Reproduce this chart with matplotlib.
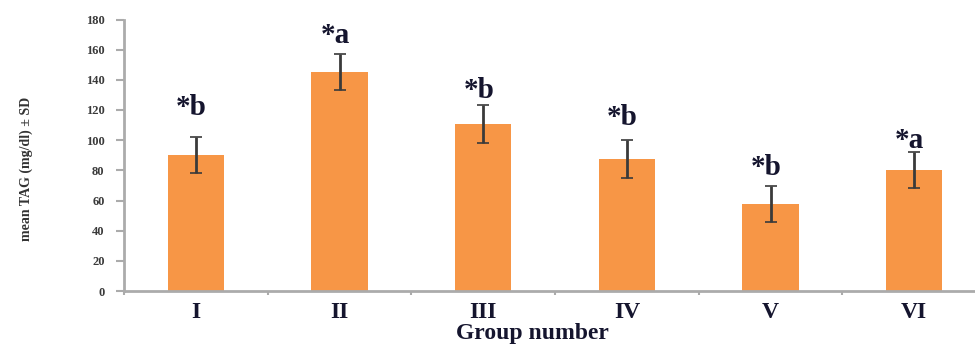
import matplotlib.pyplot as plt
import numpy as np

# Mean TAG per group with SD
groups = ["I", "II", "III", "IV", "V", "VI"]
mean_tag = [90, 145, 110.5, 87.5, 57.5, 80]
sd_tag = [12, 12, 12.5, 12.5, 12, 12]
sig_labels = ["*b", "*a", "*b", "*b", "*b", "*a"]
label_y = [116.5, 164.5, 128, 110, 77, 95]

BAR_COLOR = "#F79646"
AXIS_COLOR = "#ABABAB"
TEXT_COLOR = "#15152E"
SERIF = ["Liberation Serif", "DejaVu Serif"]

fig = plt.figure(figsize=(9.75, 3.44), dpi=100)
ax = fig.add_axes([124 / 975, 1 - 291 / 344, 862 / 975, 271.5 / 344])

x = np.arange(len(groups))
ax.bar(x, mean_tag, width=0.39, color=BAR_COLOR, zorder=2)
ax.errorbar(x, mean_tag, yerr=sd_tag, fmt="none", ecolor="#3A3A3A",
            elinewidth=2, capsize=4, capthick=1.2, zorder=3)

for xi, lab, ly in zip(x, sig_labels, label_y):
    ax.text(xi - 0.03, ly, lab, ha="center", va="baseline", fontsize=21,
            fontweight="bold", family=SERIF, color=TEXT_COLOR)

ax.set_xlim(-0.5, len(groups) - 0.5)
ax.set_ylim(0, 180)
ax.set_yticks(np.arange(0, 181, 20))

ax.set_xticks(x)
ax.set_xticklabels(groups, fontsize=17, fontweight="bold", family=SERIF,
                   color=TEXT_COLOR)
ax.set_xticks(np.arange(-0.5, len(groups)), minor=True)
ax.tick_params(axis="x", which="major", length=0, pad=8)
ax.tick_params(axis="x", which="minor", length=3, width=1.5, color=AXIS_COLOR)
ax.tick_params(axis="y", length=6, width=1.5, color=AXIS_COLOR, pad=8)
for t in ax.get_yticklabels():
    t.set_fontsize(9)
    t.set_fontweight("bold")
    t.set_family(SERIF)
    t.set_color("#3A3A3A")

for side in ("top", "right"):
    ax.spines[side].set_visible(False)
for side in ("left", "bottom"):
    ax.spines[side].set_color(AXIS_COLOR)
    ax.spines[side].set_linewidth(2)

ax.set_xlabel("Group number", fontsize=17, fontweight="bold", family=SERIF,
              color=TEXT_COLOR, va="center")
ax.xaxis.set_label_coords((532 - 124) / 862, (291 - 334) / 271.5)
ax.set_ylabel("mean TAG (mg/dl) \u00b1 SD", fontsize=10, fontweight="bold",
              family=SERIF, color="#333333")
ax.yaxis.set_label_coords(-0.106, 0.45)

fig.savefig("out.png", dpi=100)
